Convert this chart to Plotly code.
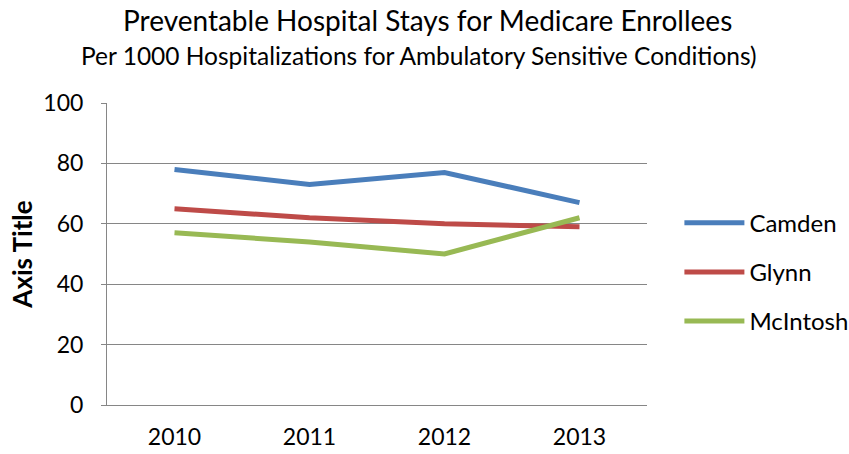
import plotly.graph_objects as go

years = ["2010", "2011", "2012", "2013"]
camden = [78, 73, 77, 67]
glynn = [65, 62, 60, 59]
mcintosh = [57, 54, 50, 62]
series_names = ["Camden", "Glynn", "McIntosh"]
colors = ["#4A7EBB", "#BE4B48", "#98B954"]

FONT = "Lato"
fig = go.Figure()
for name, vals, col in zip(series_names, [camden, glynn, mcintosh], colors):
    fig.add_trace(go.Scatter(x=years, y=vals, mode="lines", name=name, legendgroup=name,
                             line=dict(color=col, width=5)))

fig.update_layout(
    width=849, height=454,
    margin=dict(l=107, r=202, t=103, b=49, autoexpand=False),
    paper_bgcolor="white", plot_bgcolor="white",
    font=dict(family=FONT, color="black"),
    showlegend=True,
    legend=dict(x=1.06, y=0.44, xanchor="left", yanchor="middle",
                font=dict(size=24, family=FONT), traceorder="grouped",
                tracegroupgap=15, itemwidth=60),
    annotations=[
        dict(text="Preventable Hospital Stays for Medicare Enrollees",
             x=0.5935, y=1, xref="paper", yref="paper", xanchor="center", yanchor="middle",
             showarrow=False, font=dict(size=28, family=FONT), yshift=83),
        dict(text="Per 1000 Hospitalizations for Ambulatory Sensitive Conditions)",
             x=0.5787, y=1, xref="paper", yref="paper", xanchor="center", yanchor="middle",
             showarrow=False, font=dict(size=24.5, family=FONT), yshift=48),
    ],
)
fig.update_xaxes(type="category", showgrid=False, showline=True, linecolor="#868686",
                 linewidth=1, ticks="", tickfont=dict(size=23), range=[-0.5, 3.5],
                 ticklabelstandoff=11, automargin=False)
fig.update_yaxes(range=[0, 100], dtick=20, showgrid=True, gridcolor="#868686", gridwidth=1,
                 showline=True, linecolor="#868686", linewidth=1, ticks="outside",
                 ticklen=5, tickcolor="#868686", tickfont=dict(size=23),
                 ticklabelstandoff=13,
                 title=dict(text="<b>Axis Title</b>", font=dict(size=26), standoff=3),
                 zeroline=False, automargin=False)
fig.write_html("out.html", config={"displayModeBar": False},
               post_script="document.body.style.margin='0';")
